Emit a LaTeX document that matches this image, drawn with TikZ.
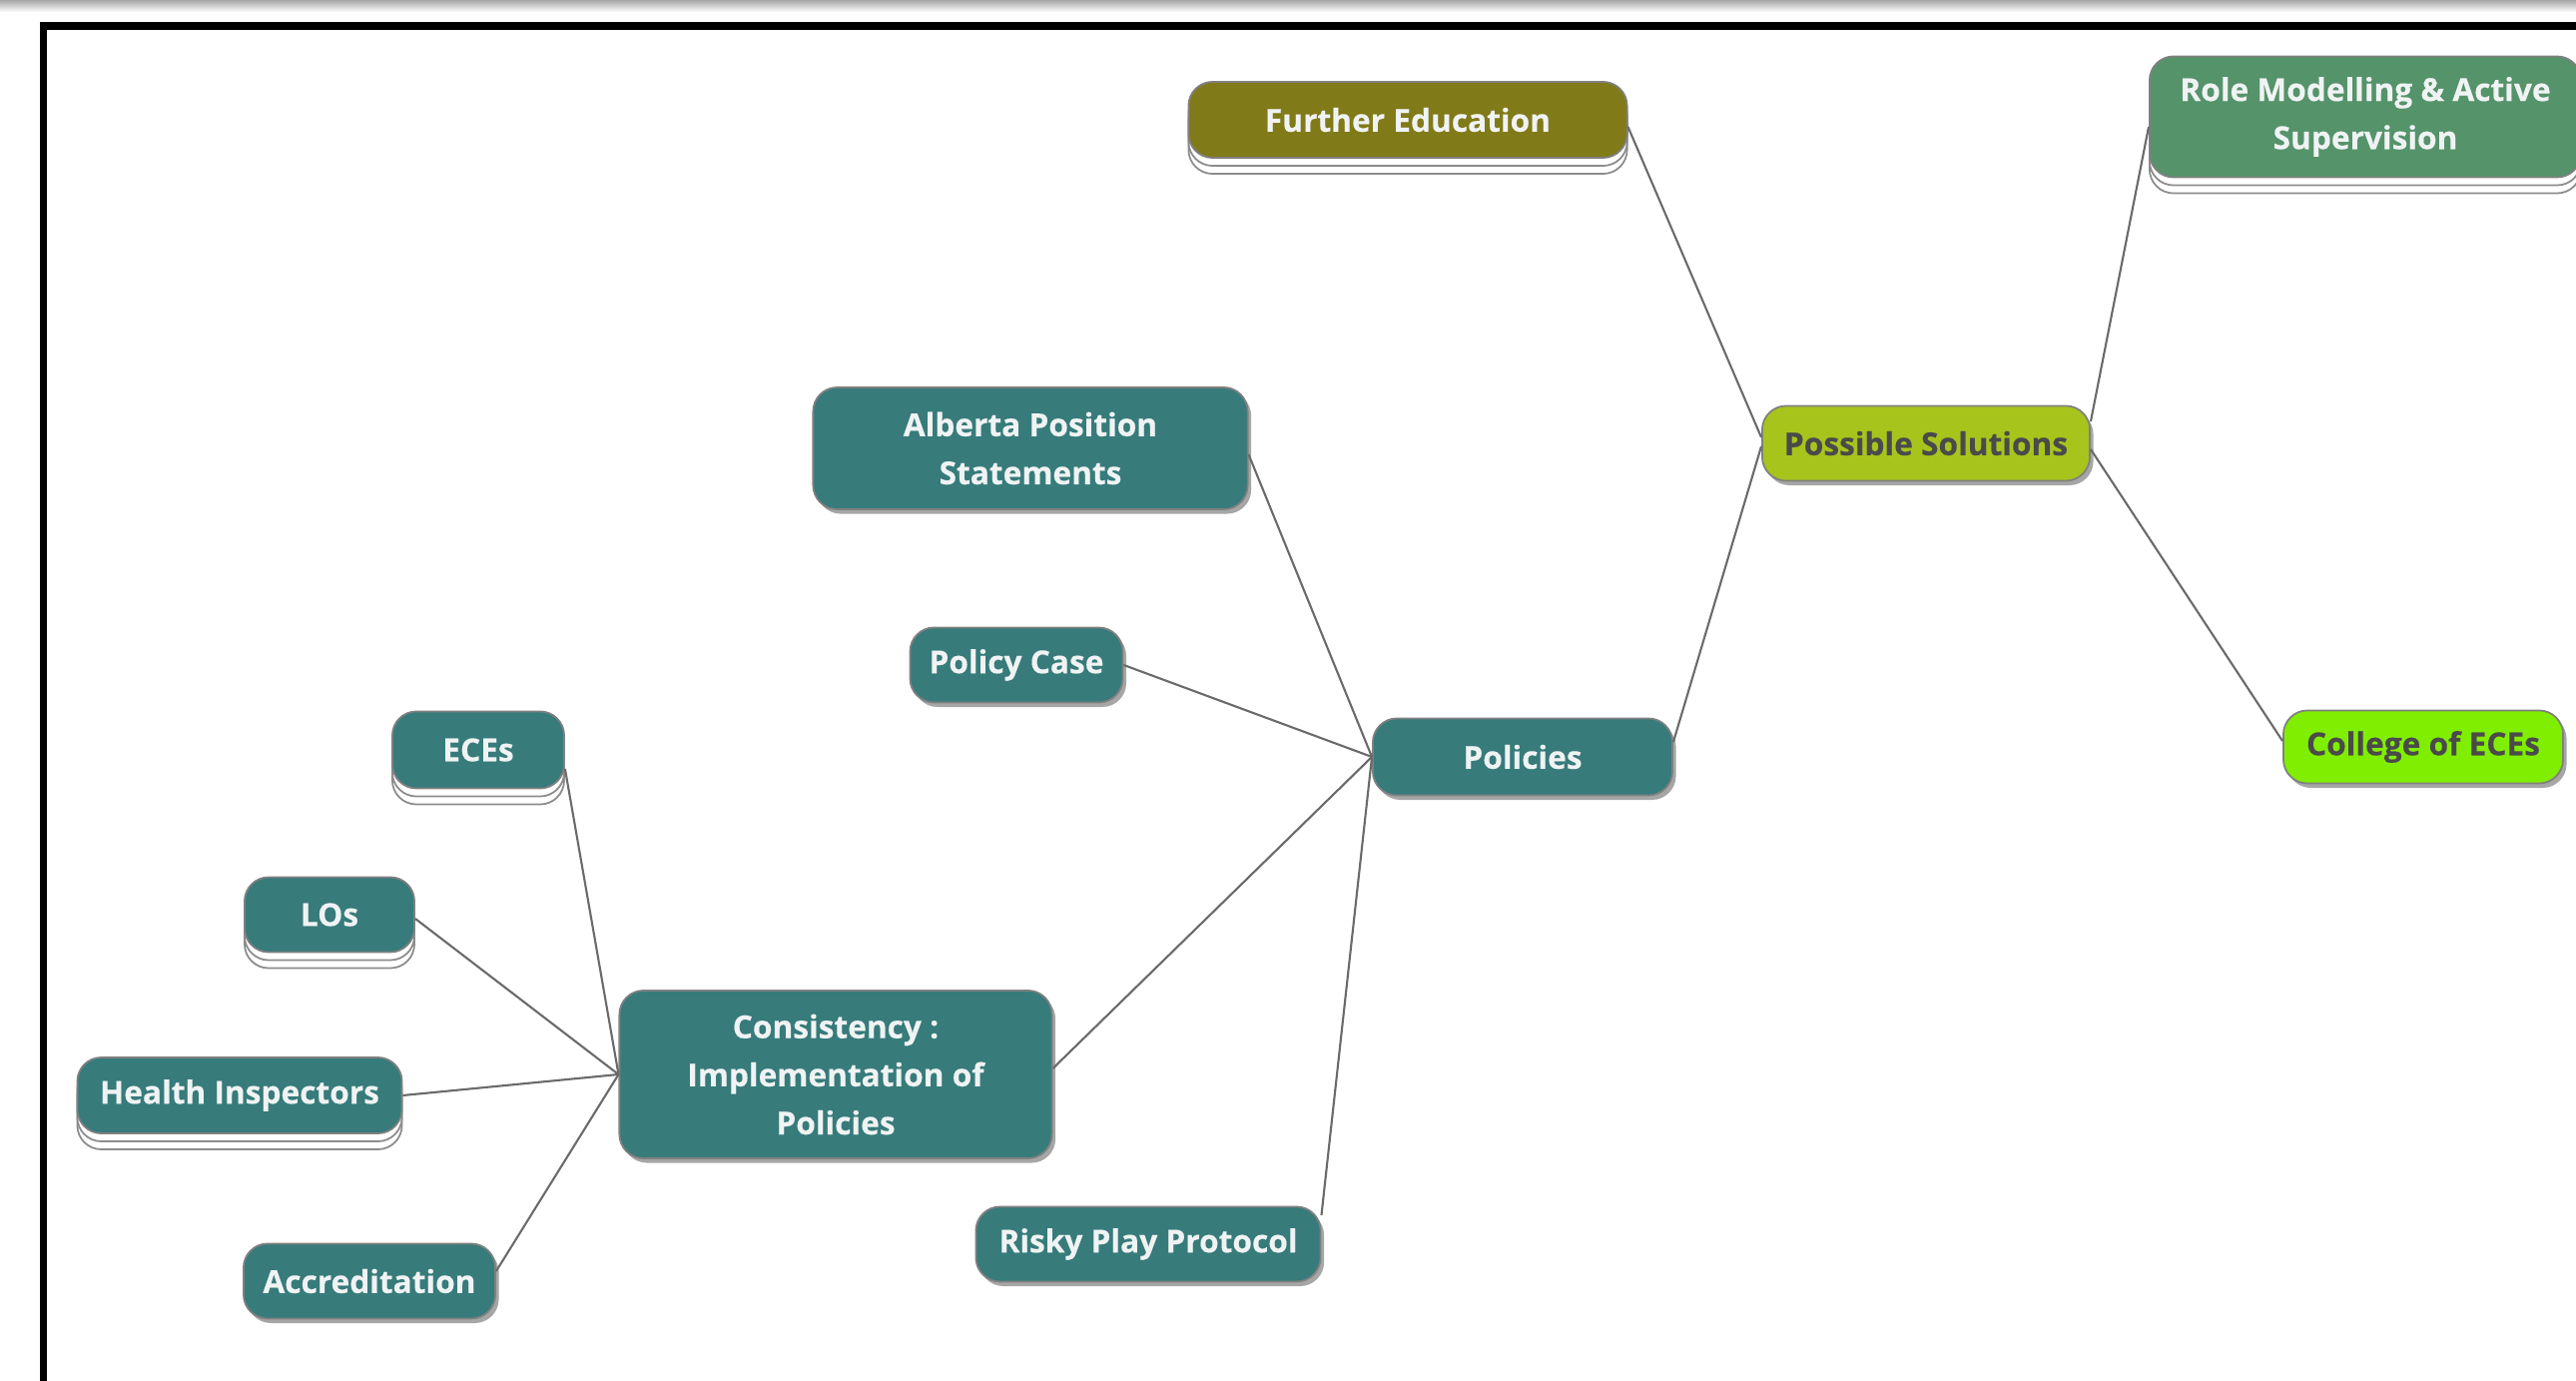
\documentclass[tikz,border=0pt]{standalone}
\usepackage{fontspec}
\setmainfont{Open Sans}
\newfontfamily\heavyfont{Open Sans}[FakeBold=0.35]
\usetikzlibrary{shadows,calc}
\definecolor{cTeal}{HTML}{377B7B}
\definecolor{cOlive}{HTML}{817A18}
\definecolor{cGreen}{HTML}{55936A}
\definecolor{cLime}{HTML}{A7C41C}
\definecolor{cBright}{HTML}{80EE00}
\definecolor{cDark}{HTML}{4A4A4A}
\definecolor{cText}{HTML}{F0F3F3}
\definecolor{cLine}{HTML}{6A6A6A}
\begin{document}
\begin{tikzpicture}[x=0.01cm,y=-0.01cm,
  box/.style={rectangle, rounded corners=0.24cm, draw=black!50, line width=0.5pt,
    inner sep=0pt, align=center, font=\heavyfont\fontsize{9}{13.7}\selectfont\bfseries,
    text=cText, fill=cTeal},
  shade box/.style={drop shadow={shadow xshift=0.035cm, shadow yshift=-0.045cm, fill=black, opacity=0.35}},
  stacked/.style={
    general shadow={shadow yshift=-0.16cm, fill=white, draw=black!45, line width=0.5pt},
    general shadow={shadow yshift=-0.08cm, fill=white, draw=black!45, line width=0.5pt}},
  link/.style={draw=cLine, line width=0.6pt}]
\useasboundingbox (0,0) rectangle (2580,1383);
\clip (0,0) rectangle (2580,1383);
% frame
\shade[top color=black!35, bottom color=white] (0,0) rectangle (2580,12);
\fill[black] (40,22) rectangle (2580,30);
\fill[black] (40,22) rectangle (47,1383);

% nodes
\node[box, stacked, fill=cOlive, minimum width=4.39cm, minimum height=0.76cm] (fe) at (1410,120) {Further Education};
\node[box, stacked, fill=cGreen, minimum width=4.32cm, minimum height=1.21cm] (rm) at (2369,117) {Role Modelling \& Active\\Supervision};
\node[box, shade box, fill=cLime, text=cDark, minimum width=3.28cm, minimum height=0.75cm] (ps) at (1929,444) {Possible Solutions};
\node[box, shade box, fill=cBright, text=cDark, minimum width=2.80cm, minimum height=0.73cm] (ce) at (2427,748) {College of ECEs};
\node[box, shade box, minimum width=4.35cm, minimum height=1.22cm] (ap) at (1032,449) {Alberta Position\\Statements};
\node[box, shade box, minimum width=2.13cm, minimum height=0.75cm] (pc) at (1018,666) {Policy Case};
\node[box, shade box, minimum width=3.00cm, minimum height=0.77cm] (pol) at (1525,758) {Policies};
\node[box, stacked, minimum width=1.72cm, minimum height=0.77cm] (ec) at (479,751) {ECEs};
\node[box, stacked, minimum width=1.70cm, minimum height=0.75cm] (lo) at (330,916) {LOs};
\node[box, stacked, minimum width=3.25cm, minimum height=0.76cm] (hi) at (240,1097) {Health Inspectors};
\node[box, shade box, minimum width=2.52cm, minimum height=0.75cm] (ac) at (370,1283) {Accreditation};
\node[box, shade box, minimum width=4.33cm, minimum height=1.68cm] (co) at (837,1076) {Consistency :\\Implementation of\\Policies};
\node[box, shade box, minimum width=3.45cm, minimum height=0.75cm] (rp) at (1150,1246) {Risky Play Protocol};

% connectors
\draw[link] ($(fe.east)+(0,7)$) -- ($(ps.west)+(0,-6)$);
\draw[link] ($(pol.east)+(0,-15)$) -- ($(ps.west)+(0,3)$);
\draw[link] ($(ps.east)+(0,-22)$) -- ($(rm.west)+(0,10)$);
\draw[link] ($(ps.east)+(0,6)$) -- ($(ce.west)+(0,-6)$);
\draw[link] ($(ap.east)+(0,6)$) -- (pol.west);
\draw[link] (pc.east) -- (pol.west);
\draw[link] ($(co.east)+(0,-6)$) -- (pol.west);
\draw[link] ($(rp.east)+(0,-29)$) -- (pol.west);
\draw[link] ($(ec.east)+(0,19)$) -- (co.west);
\draw[link] ($(lo.east)+(0,4)$) -- (co.west);
\draw[link] (hi.east) -- (co.west);
\draw[link] ($(ac.east)+(0,-10)$) -- (co.west);
\end{tikzpicture}
\end{document}
